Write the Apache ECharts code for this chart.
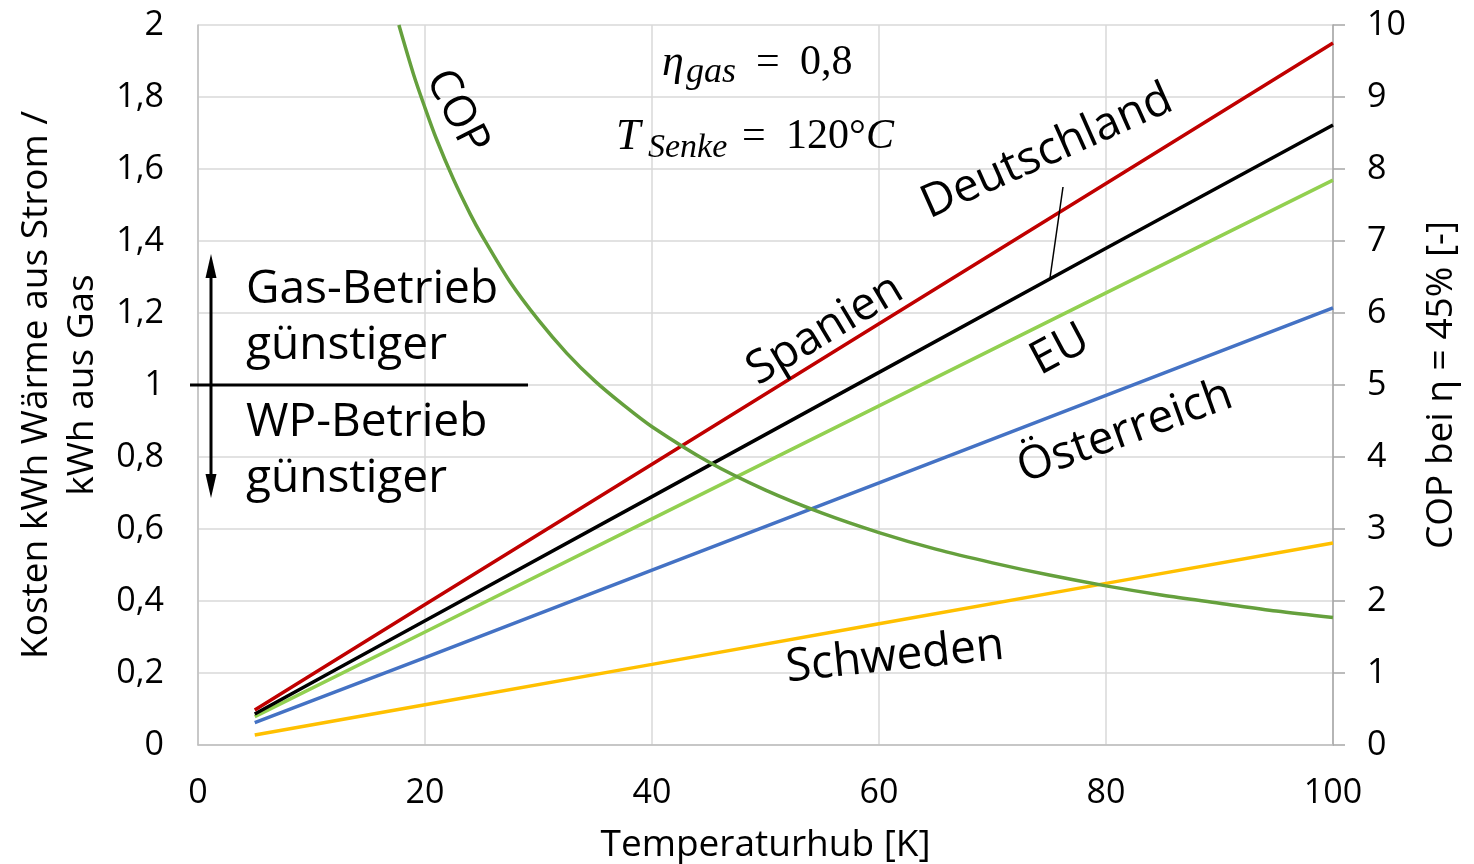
<!DOCTYPE html>
<html><head><meta charset="utf-8">
<script src="https://cdn.jsdelivr.net/npm/echarts@6/dist/echarts.min.js"></script>
<style>html,body{margin:0;padding:0;background:#fff}#c{width:1474px;height:864px}</style>
</head><body><div id="c"></div>
<script>
// ---- data ----
const hub = [5, 20, 40, 60, 80, 100];
const deutschlandRed = [0.097, 0.39, 0.78, 1.17, 1.56, 1.95];
const schwarz = [0.086, 0.345, 0.69, 1.035, 1.38, 1.722];
const eu = [0.079, 0.314, 0.628, 0.942, 1.256, 1.569];
const oesterreich = [0.062, 0.243, 0.486, 0.728, 0.971, 1.214];
const schweden = [0.028, 0.112, 0.224, 0.337, 0.449, 0.561];
const copX = [17.7, 19, 20, 21, 22.5, 24, 25, 27.5, 30, 32.5, 35, 37.5, 40, 45, 50, 55, 60, 65, 70, 75, 80, 85, 90, 95, 100];
const copY = [10, 9.31, 8.85, 8.42, 7.86, 7.37, 7.08, 6.43, 5.9, 5.44, 5.05, 4.72, 4.42, 3.93, 3.54, 3.22, 2.95, 2.72, 2.53, 2.36, 2.21, 2.08, 1.97, 1.86, 1.77];
const xTickLabels = ['0', '20', '40', '60', '80', '100'];
const leftTickLabels = ['0', '0,2', '0,4', '0,6', '0,8', '1', '1,2', '1,4', '1,6', '1,8', '2'];
const rightTickLabels = ['0', '1', '2', '3', '4', '5', '6', '7', '8', '9', '10'];

const pair = (xs, ys) => xs.map((x, i) => [x, ys[i]]);
const F = "'Open Sans', 'Noto Sans', sans-serif";
const MF = "'Liberation Serif', 'DejaVu Serif', serif";

const chart = echarts.init(document.getElementById('c'), null, {renderer: 'canvas'});

function line(name, ys, color, yi) {
  return {
    name, type: 'line', data: pair(hub, ys), yAxisIndex: yi || 0,
    symbol: 'none', lineStyle: {color, width: 3.5}, itemStyle: {color}, z: 3
  };
}

const txt = (text, x, y, rot, size, extra) => ({
  type: 'text', x, y, rotation: rot * Math.PI / 180, z: 20,
  style: Object.assign({text, font: `${size}px ${F}`, fill: '#000', align: 'center', verticalAlign: 'middle'}, extra || {})
});
const mtxt = (text, x, y, size, italic) => ({
  type: 'text', x, y, z: 20,
  style: {text, font: `${italic ? 'italic ' : ''}${size}px ${MF}`, fill: '#000', align: 'left', verticalAlign: 'middle'}
});

const option = {
  animation: false,
  backgroundColor: '#fff',
  grid: {left: 198, right: 141, top: 25, bottom: 119, containLabel: false, outerBoundsMode: 'none'},
  xAxis: {
    type: 'value', min: 0, max: 100, interval: 20,
    name: 'Temperaturhub [K]', nameLocation: 'middle', nameGap: 82,
    nameTextStyle: {fontFamily: F, fontSize: 37, color: '#000'},
    axisLine: {show: true, lineStyle: {color: '#bfbfbf', width: 1.5}},
    axisTick: {show: false},
    axisLabel: {fontFamily: F, fontSize: 34, color: '#000', margin: 31,
      formatter: (v) => xTickLabels[Math.round(v / 20)]},
    splitLine: {show: true, lineStyle: {color: '#d9d9d9', width: 1.5}}
  },
  yAxis: [{
    type: 'value', min: 0, max: 2, interval: 0.2, position: 'left',
    name: 'Kosten kWh Wärme aus Strom /\nkWh aus Gas', nameLocation: 'middle', nameGap: 86, nameRotate: 90,
    nameTextStyle: {fontFamily: F, fontSize: 37, color: '#000', lineHeight: 46, align: 'center'},
    axisLine: {show: true, lineStyle: {color: '#bfbfbf', width: 1.5}},
    axisTick: {show: false},
    axisLabel: {fontFamily: F, fontSize: 34, color: '#000', margin: 34,
      formatter: (v) => leftTickLabels[Math.round(v / 0.2)]},
    splitLine: {show: true, lineStyle: {color: '#d9d9d9', width: 1.5}}
  }, {
    type: 'value', min: 0, max: 10, interval: 1, position: 'right',
    name: 'COP bei η = 45% [-]', nameLocation: 'middle', nameGap: 90, nameRotate: 90,
    nameTextStyle: {fontFamily: F, fontSize: 37, color: '#000'},
    axisLine: {show: true, lineStyle: {color: '#a6a6a6', width: 1.5}},
    axisTick: {show: true, inside: false, length: 12, lineStyle: {color: '#a6a6a6', width: 1.5}},
    axisLabel: {fontFamily: F, fontSize: 34, color: '#000', margin: 34, align: 'left',
      formatter: (v) => rightTickLabels[Math.round(v)]},
    splitLine: {show: false}
  }],
  series: [
    line('Schweden', schweden, '#FFC000'),
    line('Österreich', oesterreich, '#4472C4'),
    line('EU', eu, '#92D050'),
    line('Deutschland', schwarz, '#000000'),
    line('Spanien', deutschlandRed, '#C00000'),
    {
      name: 'COP', type: 'line', yAxisIndex: 1, data: pair(copX, copY), smooth: 0.3,
      symbol: 'none', lineStyle: {color: '#65A03D', width: 3.5}, z: 4
    }
  ],
  graphic: [
    txt('COP', 457, 112, -63, 44),
    txt('Spanien', 825, 330, 31, 46),
    txt('Deutschland', 1047, 152, 24, 46),
    txt('EU', 1060, 350, 28, 46),
    txt('Österreich', 1125, 432, 20, 46),
    txt('Schweden', 895, 657, 6, 46),
    txt('Gas-Betrieb', 246, 290, 0, 46, {align: 'left'}),
    txt('günstiger', 246, 346, 0, 46, {align: 'left'}),
    txt('WP-Betrieb', 246, 423, 0, 46, {align: 'left'}),
    txt('günstiger', 246, 479, 0, 46, {align: 'left'}),
    // math annotations
    mtxt('η', 662, 63, 44, true),
    mtxt('gas', 686, 73, 36, true),
    mtxt('=', 756, 63, 42, false),
    mtxt('0,8', 800, 63, 42, false),
    mtxt('T', 616, 137, 44, true),
    mtxt('Senke', 648, 148, 34, true),
    mtxt('=', 742, 137, 42, false),
    mtxt('120°', 786, 137, 42, false),
    mtxt('C', 866, 137, 42, true),
    // leader line Deutschland
    {type: 'line', z: 20, shape: {x1: 1063, y1: 187, x2: 1050, y2: 278}, style: {stroke: '#000', lineWidth: 1.5}},
    // divider at 1
    {type: 'line', z: 20, shape: {x1: 190, y1: 385, x2: 528, y2: 385}, style: {stroke: '#000', lineWidth: 3}},
    // double arrow
    {type: 'line', z: 20, shape: {x1: 211, y1: 272, x2: 211, y2: 480}, style: {stroke: '#000', lineWidth: 3}},
    {type: 'polygon', z: 20, shape: {points: [[211, 254], [205.5, 278], [216.5, 278]]}, style: {fill: '#000'}},
    {type: 'polygon', z: 20, shape: {points: [[211, 498], [205.5, 474], [216.5, 474]]}, style: {fill: '#000'}}
  ]
};
chart.setOption(option);
</script>
</body></html>
